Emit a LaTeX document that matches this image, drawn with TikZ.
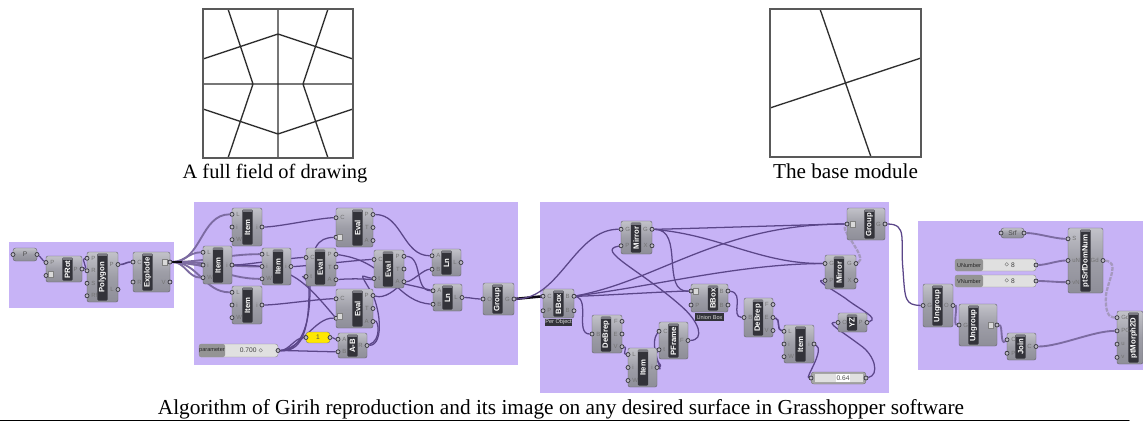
\documentclass[tikz,border=0pt]{standalone}
\usepackage{fontspec}
\setmainfont{Liberation Serif}
\setsansfont{Liberation Sans}
\pgfdeclarelayer{panel}
\pgfdeclarelayer{wire}
\pgfsetlayers{panel,wire,main}
\definecolor{panelc}{HTML}{C7B3F6}
\definecolor{wirec}{HTML}{5B4689}
\definecolor{bartop}{HTML}{7A7A82}
\definecolor{barc}{HTML}{33333A}
\definecolor{bodytop}{HTML}{C2C2C9}
\definecolor{bodybot}{HTML}{8E8E98}
\definecolor{portc}{HTML}{3A3A42}
\definecolor{linec}{HTML}{2F2F2F}
\tikzset{
  panelbox/.style={fill=panelc,draw=none},
  compbody/.style={rectangle,rounded corners=1.5pt,top color=bodytop,bottom color=bodybot,middle color=bodybot!70!bodytop,draw=bodybot!70!black,line width=.3pt,inner sep=0pt,outer sep=0pt},
  barnode/.style={rectangle,rounded corners=.8pt,fill=barc,inner sep=0pt,outer sep=0pt,text=white,font=\sffamily\bfseries\fontsize{5.8}{5.8}\selectfont},
  portdot/.style={circle,fill=panelc!45!black!40,draw=portc,line width=.55pt,inner sep=0pt,minimum size=3pt},
  portlabel/.style={inner sep=0pt,text=black!55,font=\sffamily\fontsize{4.5}{4.5}\selectfont},
  wire/.style={draw=wirec,line width=.95pt},
  wirethick/.style={draw=black!85!wirec,line width=1.9pt},
  wirefan/.style={draw=wirec!80!white,line width=1.4pt},
  wiredash/.style={draw=wirec!55!white,line width=1.7pt,dash pattern=on 3pt off .9pt},
  figline/.style={draw=linec,line width=1pt},
  figframe/.style={draw=linec!80!white,line width=1.2pt},
  caption/.style={inner sep=0pt,anchor=base},
  pilltext/.style={inner sep=0pt,text=black!70,font=\sffamily\fontsize{5}{5}\selectfont},
  slidername/.style={inner sep=0pt,text=black!85,font=\sffamily\fontsize{4.2}{4.2}\selectfont},
  tagbox/.style={rectangle,fill=barc,inner sep=0pt,text=white!85!black,font=\sffamily\fontsize{4.2}{4.2}\selectfont},
}
% \comp{id}{x0}{x1}{y0}{y1}{bar centre}{label}{left ports}{right ports}
\newcommand{\comp}[9]{%
  \pgfmathsetmacro{\cw}{(#3)-(#2)}%
  \pgfmathsetmacro{\ch}{(#5)-(#4)}%
  \pgfmathsetmacro{\cx}{((#2)+(#3))/2}%
  \pgfmathsetmacro{\cy}{((#4)+(#5))/2}%
  \node[compbody,minimum width=\cw*.75pt,minimum height=\ch*.75pt] (#1) at (\cx,\cy) {};
  \pgfmathsetmacro{\bh}{\ch-3}%
  \pgfmathsetmacro{\by}{\cy+.5}%
  \node[barnode,rotate=90,minimum width=\bh*.75pt,minimum height=7.8pt] (#1-bar) at (#6,\cy) {};
  \fill[bartop] (#6-4.8,#4+1.5) rectangle (#6+4.8,#4+4);
  \node[inner sep=0pt,rotate=90,text=white,font=\sffamily\bfseries\fontsize{5.8}{5.8}\selectfont] (#1-lab) at (#6,\by) {#7};
  \if\relax\detokenize{#8}\relax\else
  \foreach \lbl [count=\n] in {#8} {\xdef\pcnt{\n}}%
  \foreach \lbl [count=\n] in {#8} {%
    \pgfmathsetmacro{\py}{(#4)+\ch*(\n-.5)/\pcnt}%
    \node[portdot] (#1-L\n) at (#2,\py) {};
    \node[portlabel,anchor=west] (#1-LT\n) at (#2+4,\py) {\lbl};
  }\fi
  \if\relax\detokenize{#9}\relax\else
  \foreach \lbl [count=\n] in {#9} {\xdef\pcnt{\n}}%
  \foreach \lbl [count=\n] in {#9} {%
    \pgfmathsetmacro{\py}{(#4)+\ch*(\n-.5)/\pcnt}%
    \node[portdot] (#1-R\n) at (#3,\py) {};
    \node[portlabel,anchor=east] (#1-RT\n) at (#3-4,\py) {\lbl};
  }\fi
}
% \pill{id}{x0}{x1}{y0}{y1}{text}
\newcommand{\pill}[6]{%
  \pgfmathsetmacro{\cw}{(#3)-(#2)}%
  \pgfmathsetmacro{\ch}{(#5)-(#4)}%
  \pgfmathsetmacro{\cx}{((#2)+(#3))/2}%
  \pgfmathsetmacro{\cy}{((#4)+(#5))/2}%
  \node[compbody,rounded corners=2pt,minimum width=\cw*.75pt,minimum height=\ch*.75pt,pilltext] (#1) at (\cx,\cy) {#6};
  \node[portdot] (#1-L1) at (#2,\cy) {};
  \node[portdot] (#1-R1) at (#3,\cy) {};
}
% \slidernode{id}{x0}{x1}{y0}{y1}{split}{name}{value}
\newcommand{\slidernode}[8]{%
  \pgfmathsetmacro{\cw}{(#3)-(#2)}%
  \pgfmathsetmacro{\ch}{(#5)-(#4)}%
  \pgfmathsetmacro{\cx}{((#2)+(#3))/2}%
  \pgfmathsetmacro{\cy}{((#4)+(#5))/2}%
  \node[rectangle,rounded corners=2pt,fill=black!12,draw=black!45,line width=.3pt,inner sep=0pt,minimum width=\cw*.75pt,minimum height=\ch*.75pt] (#1) at (\cx,\cy) {};
  \fill[black!42,rounded corners=1.5pt] (#2,#4) rectangle (#6,#5);
  \node[slidername] (#1-name) at ({((#2)+(#6))/2},\cy) {#7};
  \node[pilltext,text=black!75] (#1-val) at ({((#6)+(#3))/2},\cy) {#8};
  \node[portdot] (#1-R1) at (#3,\cy) {};
}
\newcommand{\iconbox}[2]{\fill[white!85!black,draw=black!50,line width=.3pt] (#1-2.5,#2-3) rectangle (#1+2.5,#2+3);}
\begin{document}
\begin{tikzpicture}[x=.75pt,y=-.75pt,line cap=round]
\useasboundingbox (0,0) rectangle (1143,422);
% ---- upper drawings
\draw[figline] (228,9)--(253,84)--(228,158) (328,9)--(303,84)--(328,158)
  (203,59)--(278,34)--(353,59) (203,109)--(278,134)--(353,109) (278,9)--(278,158) (203,84)--(353,84);
\draw[figframe] (203,9) rectangle (353,158);
\draw[figline] (820,9)--(871,157) (770,108)--(921,58);
\draw[figframe] (770,9) rectangle (921,157);
\node[caption,font=\fontsize{15.3}{17}\selectfont] (capa) at (275,178.5) {A full field of drawing};
\node[caption,font=\fontsize{15.9}{17}\selectfont] (capb) at (845.5,178.5) {The base module};
\node[caption,font=\fontsize{16}{17}\selectfont] (capc) at (561,414) {Algorithm of Girih reproduction and its image on any desired surface in Grasshopper software};
\draw[draw=black,line width=1pt] (0,420.5)--(1129,420.5);
% ---- panels
\begin{pgfonlayer}{panel}
\fill[white] (0,0) rectangle (1143,422);
\fill[panelc] (9,242) rectangle (174,308);
\fill[panelc] (194,202) rectangle (518,365);
\fill[panelc] (540,202) rectangle (889,393);
\fill[panelc] (918,221) rectangle (1143,370);
\end{pgfonlayer}
% ---- components
\pill{param}{13}{37}{248}{261}{P}
\comp{prot}{46}{82}{256}{282}{67.5}{PRot}{P,A}{P}
\comp{polygon}{87}{118}{252}{302}{102.5}{Polygon}{P,R,S,Rf}{P,L}
\comp{explode}{133}{170}{252}{292}{147.5}{Explode}{C,R}{S,V}
\comp{itema}{232}{262}{208}{246}{247.5}{Item}{L,i,W}{i}
\comp{itemb}{203}{232}{246}{284}{218}{Item}{L,i,W}{i}
\comp{itemc}{232}{262}{286}{324}{247.5}{Item}{L,i,W}{i}
\comp{itemd}{262}{291}{248}{285}{278}{Item}{L,i,W}{i}
\slidernode{slidera}{199}{278}{344}{357}{225}{parameter}{0.700 \raisebox{.1ex}{$\scriptscriptstyle\diamond$}}
\comp{evala}{336}{373}{208}{247}{357.5}{Eval}{C,t}{P,T,A}
\comp{evalb}{306}{336}{248}{286}{320}{Eval}{C,t}{P,T,A}
\comp{evalc}{374}{404}{250}{288}{388}{Eval}{C,t}{P,T,A}
\comp{evald}{336}{373}{289}{328}{357.5}{Eval}{C,t}{P,T,A}
\comp{lna}{432}{461}{249}{276}{446.5}{Ln}{A,B}{L}
\comp{lnb}{433}{462}{284}{311}{447.5}{Ln}{A,B}{L}
\comp{groupa}{483}{514}{283}{315}{497.5}{Group}{O}{G}
\node[rectangle,rounded corners=2pt,fill=yellow!90!orange,draw=black!50,line width=.3pt,minimum width=18pt,minimum height=8.2pt,inner sep=0pt,pilltext] (yellowp) at (318,337.5) {1};
\node[portdot] (yellowp-L1) at (306,337.5) {};
\node[portdot] (yellowp-R1) at (330,337.5) {};
\comp{aminusb}{338}{367}{333}{358}{352.5}{A-B}{A,B}{R}
\comp{bboxa}{543}{574}{289}{318}{558.5}{BBox}{C,P}{B,B}
\node[tagbox,minimum width=17.2pt,minimum height=5.2pt] (tagper) at (558.5,322.5) {Per Object};
\comp{mirrora}{621}{652}{221}{254}{636}{Mirror}{G,P}{G,X}
\comp{bboxb}{691}{728}{284}{312}{713}{BBox}{C,P}{B,B}
\node[tagbox,minimum width=21.7pt,minimum height=6pt] (tagunion) at (709.5,317) {Union Box};
\comp{debrepa}{592}{622}{315}{353}{606}{DeBrep}{B}{F,E,V}
\comp{iteme}{628}{657}{348}{387}{643}{Item}{L,i,W}{i}
\comp{pframe}{659}{688}{322}{359}{673.5}{PFrame}{C,t}{F}
\comp{groupb}{847}{885}{208}{240}{869.5}{Group}{O}{G}
\comp{mirrorb}{825}{856}{255}{289}{839}{Mirror}{G,P}{G,X}
\comp{debrepb}{744}{773}{298}{337}{758}{DeBrep}{B}{F,E,V}
\comp{itemf}{784}{814}{325}{363}{800.5}{Item}{L,i,W}{i}
\comp{yz}{838}{867}{313}{332}{852}{YZ}{O}{P}
% gauge slider
\node[rectangle,rounded corners=2pt,fill=black!35,draw=black!55,line width=.3pt,inner sep=0pt,minimum width=41pt,minimum height=9pt] (sliderb) at (838.5,378) {};
\fill[black!12] (815,374) rectangle (863,382);
\node[rectangle,fill=white,inner sep=0pt,minimum width=10.5pt,minimum height=6pt,pilltext] (sliderb-val) at (843,378) {0.64};
\node[portdot] (sliderb-L1) at (811,378) {};
\node[portdot] (sliderb-R1) at (866,378) {};
\pill{srf}{1001}{1024}{228}{238}{Srf}
\comp{srfdom}{1068}{1103}{228}{293}{1085.5}{ptSrfDomNum}{S,uN,vN}{Gd}
\slidernode{unum}{955}{1036}{259}{271}{983}{UNumber}{\raisebox{.1ex}{$\scriptscriptstyle\diamond$} 8}
\slidernode{vnum}{955}{1036}{275}{287}{983}{VNumber}{\raisebox{.1ex}{$\scriptscriptstyle\diamond$} 8}
\comp{ungroupa}{923}{953}{284}{327}{937.5}{Ungroup}{G}{O}
\comp{ungroupb}{959}{997}{304}{346}{973.5}{Ungroup}{G}{O}
\comp{join}{1007}{1036}{333}{360}{1020.5}{Join}{C,P}{C}
\comp{morph}{1117}{1143}{311}{364}{1133.5}{ptMorph2D}{Gd,PC,u,v}{}
% icons on inputs
\iconbox{50.5}{274.5}
\iconbox{165}{262}
\iconbox{340}{237}
\iconbox{340}{316}
\iconbox{696}{291}
\iconbox{853}{224}
\iconbox{991}{325}
% ---- wires
\begin{pgfonlayer}{wire}
\draw[wire] (param-R1) to[out=-30,in=150] (prot-L1);
\draw[wire] (prot-R1) to[out=0,in=180] (polygon-L1);
\draw[wire,line width=1.2pt] (polygon-R1) to[out=0,in=180] (explode-L1);
\foreach \t in {itema-L1,itemb-L1,itemb-L2,itemb-L3,itemc-L1,itemd-L1,itemd-L2,itemd-L3}
  \draw[wirefan] (explode-R1) to[out=0,in=180] (\t);
\draw[wirethick,line width=1.2pt] (explode-R1) -- ++(12,0);
\draw[wire] (itema-R1) to[out=0,in=180,looseness=.5] (evala-L1);
\draw[wire] (itemb-R1) to[out=0,in=180,looseness=.4] (evalb-L1);
\draw[wire] (itemc-R1) to[out=0,in=180,looseness=.5] (evald-L1);
\draw[wire] (itemd-R1) to[out=0,in=180,looseness=.3] (evalc-L1);
\draw[wire] (itemb-R1) .. controls (290,265) and (302,278) .. (evald-L2);
\draw[wire] (slidera-R1) to[out=0,in=180,looseness=.8] (yellowp-L1);
\draw[wire] (slidera-R1) to[out=0,in=180,looseness=.4] (aminusb-L2);
\draw[wire] (slidera-R1) .. controls (300,352) and (309,335) .. (309,290) .. controls (309,278) and (300,276) .. (evalb-L2);
\draw[wire] (slidera-R1) .. controls (295,352) and (310,335) .. (310,290) .. controls (310,245) and (318,238) .. (evala-L2);
\draw[wire] (slidera-R1) .. controls (300,350) and (315,317) .. (evald-L2);
\draw[wire] (yellowp-R1) to[out=0,in=180] (aminusb-L1);
\draw[wire] (aminusb-R1) .. controls (385,345) and (380,305) .. (370,290) .. controls (358,270) and (362,277) .. (evalc-L2);
\draw[wire] (aminusb-R1) .. controls (382,340) and (378,320) .. (evald-R3);
\draw[wire] (evala-R1) to[out=0,in=180] (lna-L1);
\draw[wire] (evalc-R1) to[out=0,in=180] (lnb-L1);
\draw[wire] (evalc-R3) to[out=0,in=180,looseness=.6] (lna-L2);
\draw[wire] (evalb-R1) .. controls (360,258) and (372,265) .. (390,280) .. controls (405,295) and (415,303) .. (lnb-L2);
\draw[wire] (evalb-R3) .. controls (370,277) and (400,282) .. (lnb-L1);
\draw[wire] (evald-R1) .. controls (385,299) and (395,290) .. (evalc-R3);
\draw[wire] (lnb-R1) to[out=0,in=180] (groupa-L1);
\draw[wirethick] (groupa-R1) -- (bboxa-L1);
\draw[wire] (groupa-R1) .. controls (560,299) and (575,229) .. (mirrora-L1);
\draw[wire] (bboxa-R1) .. controls (660,280) and (720,224) .. (groupb-L1);
\draw[wire] (bboxa-R1) .. controls (660,285) and (740,264) .. (mirrorb-L1);
\draw[wire] (bboxa-R1) to[out=0,in=180,looseness=.3] (bboxb-L1);
\draw[wire] (bboxa-R1) .. controls (590,300) and (575,334) .. (debrepa-L1);
\draw[wire] (mirrora-R1) to[out=0,in=180,looseness=.2] (groupb-L1);
\draw[wire] (mirrora-R1) .. controls (720,235) and (760,264) .. (mirrorb-L1);
\draw[wire] (mirrora-R1) .. controls (685,229) and (660,293) .. (bboxb-L1);
\draw[wire] (debrepa-R3) to[out=0,in=180] (iteme-L1);
\draw[wire] (iteme-R1) .. controls (665,365) and (650,360) .. (pframe-L2);
\draw[wire] (iteme-R1) .. controls (664,372) and (648,345) .. (pframe-L1);
\draw[wire] (pframe-R1) .. controls (705,340) and (700,322) .. (680,305) .. controls (640,270) and (595,250) .. (mirrora-L2);
\draw[wire] (bboxb-R1) .. controls (745,293) and (730,317) .. (debrepb-L1);
\draw[wire,line width=1.2pt] (debrepb-R2) to[out=-10,in=170] (itemf-L1);
\draw[wire] (itemf-R1) .. controls (825,350) and (805,378) .. (sliderb-L1);
\draw[wire] (sliderb-R1) .. controls (880,375) and (875,355) .. (860,345) .. controls (840,330) and (825,322) .. (yz-L1);
\draw[wire] (yz-R1) .. controls (880,318) and (860,310) .. (845,298) .. controls (830,288) and (815,280) .. (mirrorb-L2);
\draw[wiredash] (mirrorb-R1) .. controls (868,258) and (840,230) .. (groupb-L1);
\draw[wire] (groupb-R1) .. controls (908,224) and (900,240) .. (903,270) .. controls (905,300) and (905,305) .. (ungroupa-L1);
\draw[wirefan] (ungroupa-R1) .. controls (958,305) and (953,325) .. (ungroupb-L1);
\draw[wirefan] (ungroupb-R1) .. controls (1003,325) and (1000,346) .. (join-L1);
\draw[wirefan] (join-R1) to[out=0,in=180,looseness=.7] (morph-L2);
\draw[wirefan] (srf-R1) to[out=0,in=180,looseness=.7] (srfdom-L1);
\draw[wirefan] (unum-R1) to[out=0,in=180,looseness=.7] (srfdom-L2);
\draw[wirefan] (vnum-R1) to[out=0,in=180,looseness=.7] (srfdom-L3);
\draw[wiredash] (srfdom-R1) .. controls (1120,262) and (1108,280) .. (1106,295) .. controls (1105,310) and (1108,318) .. (morph-L1);
\end{pgfonlayer}
\end{tikzpicture}
\end{document}
